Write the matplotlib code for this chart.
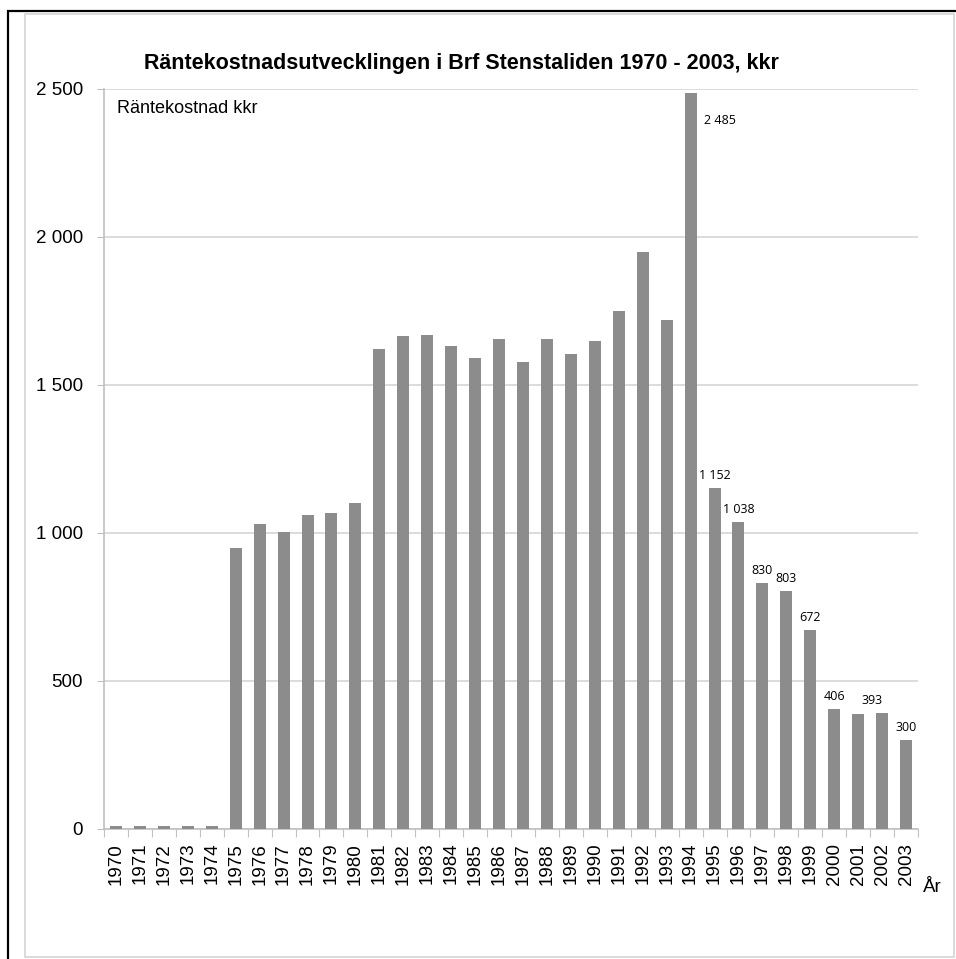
import matplotlib.pyplot as plt
from matplotlib.patches import Rectangle

years = list(range(1970, 2004))
cost = [10, 10, 10, 10, 10, 950, 1030, 1003, 1061, 1068,
        1101, 1620, 1665, 1670, 1632, 1592, 1655, 1577, 1655, 1605,
        1648, 1750, 1950, 1720, 2485, 1152, 1038, 830, 803, 672,
        406, 390, 393, 300]
# years that carry a value label in the original
labelled = [1995, 1996, 1997, 1998, 1999, 2000, 2002, 2003]

plt.rcParams['font.family'] = ['Liberation Sans', 'DejaVu Sans']

fig = plt.figure(figsize=(9.56, 9.59), dpi=100)
ax = fig.add_axes([0.1088, 0.1356, 0.8515, 0.7716])

# frames round the figure
fig.patches.append(Rectangle((8 / 956, -0.1), 1.2, 1 - 11 / 959 + 0.1, transform=fig.transFigure,
                             fill=False, edgecolor='black', linewidth=1.6))
fig.patches.append(Rectangle((25 / 956, 2 / 959), 929 / 956, 943 / 959, transform=fig.transFigure,
                             fill=False, edgecolor='#d4d4d4', linewidth=1.2))

x = list(range(len(years)))
ax.bar(x, cost, width=0.5, color='#8c8c8c', zorder=3)

ax.set_xlim(-0.5, len(years) - 0.5)
ax.set_ylim(0, 2500)
ax.set_yticks([0, 500, 1000, 1500, 2000, 2500])
ax.set_yticklabels(['0', '500', '1 000', '1 500', '2 000', '2 500'], fontsize=13.5)
ax.yaxis.grid(True, color='#d6d6d6', linewidth=1.2, zorder=0)
ax.tick_params(axis='y', length=5, color='#c0c0c0', pad=10)

ax.set_xticks([i - 0.5 for i in x] + [len(years) - 0.5])
ax.set_xticklabels([])
ax.set_xticks(x, minor=True)
ax.set_xticklabels([str(y) for y in years], minor=True, rotation=90, fontsize=13.5)
ax.tick_params(axis='x', which='major', length=6, color='#c0c0c0')
ax.tick_params(axis='x', which='minor', length=0, pad=10)

for s in ['top', 'right']:
    ax.spines[s].set_visible(False)
ax.spines['left'].set_color('#c0c0c0')
ax.spines['bottom'].set_color('#c0c0c0')
ax.spines['left'].set_linewidth(1.2)
ax.spines['bottom'].set_linewidth(1.2)

for yr in labelled:
    i = years.index(yr)
    xi = i - 0.4 if yr == 2002 else i
    txt = f"{cost[i]:,}".replace(",", " ")
    ax.text(xi, cost[i] + 20, txt, ha='center', va='bottom', fontsize=9,
            family=['Open Sans', 'DejaVu Sans'])

i94 = years.index(1994)
ax.text(i94 + 0.55, cost[i94] - 90, f"{cost[i94]:,}".replace(",", " "), ha='left', va='center',
        fontsize=9, family=['Open Sans', 'DejaVu Sans'])

ax.text(0.016, 0.985, 'Räntekostnad kkr', transform=ax.transAxes, fontsize=13, va='top', ha='left')

fig.text(461 / 956, 1 - 63 / 959, 'Räntekostnadsutvecklingen i Brf Stenstaliden 1970 - 2003, kkr',
         ha='center', va='center', fontsize=15.5, fontweight='bold')
fig.text(932 / 956, 1 - 887 / 959, 'År', ha='center', va='center', fontsize=13.5)

fig.savefig('out.png', dpi=100)
